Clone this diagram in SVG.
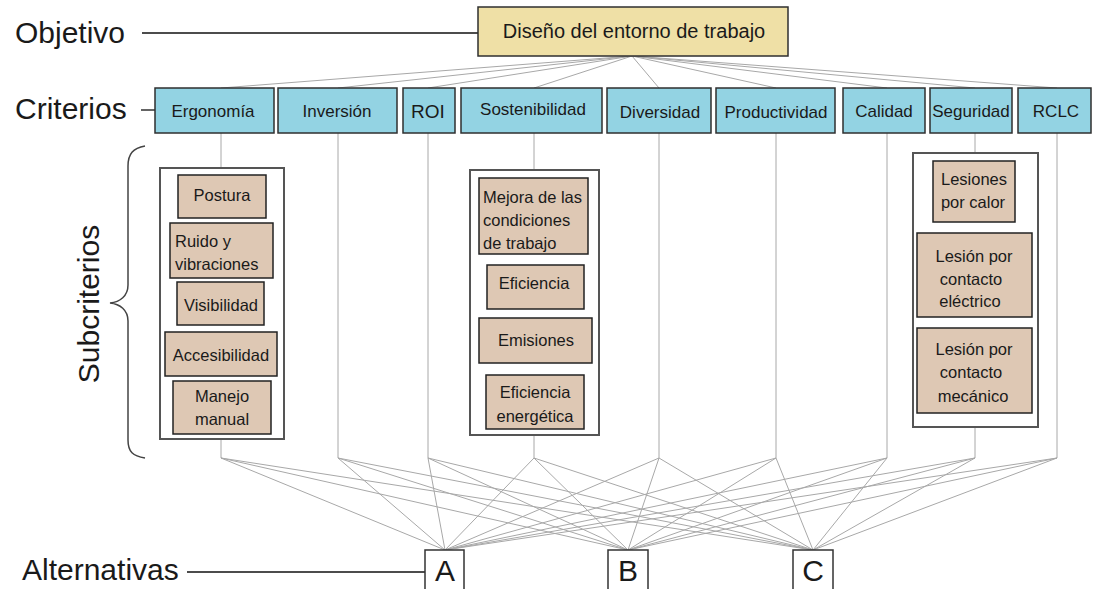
<svg xmlns="http://www.w3.org/2000/svg" width="1094" height="589" viewBox="0 0 1094 589">
<style>
text{font-family:"Liberation Sans",Arial,sans-serif;fill:#1a1a1a}
.lbl{font-size:30px}
.crit rect{fill:#93d3e3;stroke:#2f2f2f;stroke-width:1.5}
.crit text{font-size:17px;text-anchor:middle}
.cont{fill:#fff;stroke:#555;stroke-width:2}
.sub{fill:#dec8b4;stroke:#222;stroke-width:1.5}
.st{font-size:16.5px}
.mid{text-anchor:middle}
.conn line{stroke:#a8a8a8;stroke-width:1}
.guide{stroke:#111;stroke-width:1.3}
.alt rect{fill:#fff;stroke:#333;stroke-width:1.5}
.alt text{font-size:30px;text-anchor:middle}
</style>
<rect width="1094" height="589" fill="#fff"/>

<!-- level labels -->
<g id="labels">
<text class="lbl" x="15" y="43">Objetivo</text>
<line class="guide" x1="142" y1="33" x2="478" y2="33"/>
<text class="lbl" x="15" y="119">Criterios</text>
<line class="guide" x1="141" y1="110" x2="155" y2="110"/>
<text class="lbl" transform="translate(99,304) rotate(-90)" text-anchor="middle">Subcriterios</text>
<path d="M145,146 C133,148 128,154 128,166 L128,285 C128,296 120,302 110,303 C120,304 128,310 128,321 L128,440 C128,452 133,456 145,458" fill="none" stroke="#444" stroke-width="1.5"/>
<text class="lbl" x="22" y="580">Alternativas</text>
<line class="guide" x1="187" y1="572" x2="425" y2="572"/>
</g>

<!-- connectors -->
<g id="connectors" class="conn">
<line x1="632" y1="56" x2="221" y2="88"/>
<line x1="632" y1="56" x2="338" y2="88"/>
<line x1="632" y1="56" x2="428" y2="88"/>
<line x1="632" y1="56" x2="534" y2="88"/>
<line x1="632" y1="56" x2="659" y2="88"/>
<line x1="632" y1="56" x2="776" y2="88"/>
<line x1="632" y1="56" x2="887" y2="88"/>
<line x1="632" y1="56" x2="975" y2="88"/>
<line x1="632" y1="56" x2="1057" y2="88"/>

<line x1="221" y1="133" x2="221" y2="458"/>
<line x1="338" y1="133" x2="338" y2="458"/>
<line x1="428" y1="133" x2="428" y2="458"/>
<line x1="534" y1="133" x2="534" y2="458"/>
<line x1="659" y1="133" x2="659" y2="458"/>
<line x1="776" y1="133" x2="776" y2="458"/>
<line x1="887" y1="133" x2="887" y2="458"/>
<line x1="975" y1="133" x2="975" y2="458"/>
<line x1="1057" y1="133" x2="1057" y2="458"/>

<line x1="221" y1="458" x2="445" y2="550"/><line x1="221" y1="458" x2="628" y2="550"/><line x1="221" y1="458" x2="813" y2="550"/>
<line x1="338" y1="458" x2="445" y2="550"/><line x1="338" y1="458" x2="628" y2="550"/><line x1="338" y1="458" x2="813" y2="550"/>
<line x1="428" y1="458" x2="445" y2="550"/><line x1="428" y1="458" x2="628" y2="550"/><line x1="428" y1="458" x2="813" y2="550"/>
<line x1="534" y1="458" x2="445" y2="550"/><line x1="534" y1="458" x2="628" y2="550"/><line x1="534" y1="458" x2="813" y2="550"/>
<line x1="659" y1="458" x2="445" y2="550"/><line x1="659" y1="458" x2="628" y2="550"/><line x1="659" y1="458" x2="813" y2="550"/>
<line x1="776" y1="458" x2="445" y2="550"/><line x1="776" y1="458" x2="628" y2="550"/><line x1="776" y1="458" x2="813" y2="550"/>
<line x1="887" y1="458" x2="445" y2="550"/><line x1="887" y1="458" x2="628" y2="550"/><line x1="887" y1="458" x2="813" y2="550"/>
<line x1="975" y1="458" x2="445" y2="550"/><line x1="975" y1="458" x2="628" y2="550"/><line x1="975" y1="458" x2="813" y2="550"/>
<line x1="1057" y1="458" x2="445" y2="550"/><line x1="1057" y1="458" x2="628" y2="550"/><line x1="1057" y1="458" x2="813" y2="550"/>
</g>

<!-- goal -->
<g id="goal">
<rect x="478" y="7" width="310" height="49" fill="#efe0a6" stroke="#2f2f2f" stroke-width="1.5"/>
<text x="634" y="38" font-size="20" text-anchor="middle">Diseño del entorno de trabajo</text>
</g>

<!-- criteria -->
<g id="c-ergonomia" class="crit"><rect x="155" y="88" width="119" height="45"/><text x="213" y="117">Ergonomía</text></g>
<g id="c-inversion" class="crit"><rect x="278" y="88" width="119" height="45"/><text x="337" y="117">Inversión</text></g>
<g id="c-roi" class="crit"><rect x="403" y="88" width="52" height="45"/><text x="428" y="118" style="font-size:19px">ROI</text></g>
<g id="c-sostenibilidad" class="crit"><rect x="461" y="88" width="141" height="45"/><text x="533" y="115">Sostenibilidad</text></g>
<g id="c-diversidad" class="crit"><rect x="607" y="88" width="104" height="45"/><text x="660" y="118">Diversidad</text></g>
<g id="c-productividad" class="crit"><rect x="716" y="88" width="119" height="45"/><text x="776" y="118">Productividad</text></g>
<g id="c-calidad" class="crit"><rect x="843" y="88" width="82" height="45"/><text x="884" y="117">Calidad</text></g>
<g id="c-seguridad" class="crit"><rect x="930" y="88" width="82" height="45"/><text x="971" y="117">Seguridad</text></g>
<g id="c-rclc" class="crit"><rect x="1018" y="88" width="73" height="45"/><text x="1056" y="117">RCLC</text></g>

<!-- subcriteria: Ergonomía -->
<g id="s-ergonomia">
<rect class="cont" x="160" y="168" width="124" height="271"/>
<rect class="sub" x="178" y="175" width="88" height="43"/><text class="st mid" x="222" y="201">Postura</text>
<rect class="sub" x="170" y="223" width="103" height="55"/><text class="st" x="175" y="247">Ruido y</text><text class="st" x="175" y="270">vibraciones</text>
<rect class="sub" x="177" y="282" width="87" height="43"/><text class="st mid" x="221" y="311">Visibilidad</text>
<rect class="sub" x="165" y="332" width="112" height="44"/><text class="st mid" x="221" y="361">Accesibilidad</text>
<rect class="sub" x="173" y="381" width="98" height="53"/><text class="st mid" x="222" y="402">Manejo</text><text class="st mid" x="222" y="425">manual</text>
</g>

<!-- subcriteria: Sostenibilidad -->
<g id="s-sostenibilidad">
<rect class="cont" x="470" y="170" width="129" height="265"/>
<rect class="sub" x="479" y="178" width="109" height="76"/><text class="st" x="483" y="203">Mejora de las</text><text class="st" x="483" y="226">condiciones</text><text class="st" x="483" y="249">de trabajo</text>
<rect class="sub" x="487" y="265" width="97" height="44"/><text class="st mid" x="534" y="289">Eficiencia</text>
<rect class="sub" x="479" y="318" width="113" height="45"/><text class="st mid" x="536" y="346">Emisiones</text>
<rect class="sub" x="486" y="375" width="98" height="54"/><text class="st mid" x="535" y="398">Eficiencia</text><text class="st mid" x="535" y="422">energética</text>
</g>

<!-- subcriteria: Seguridad -->
<g id="s-seguridad">
<rect class="cont" x="913" y="153" width="125" height="274"/>
<rect class="sub" x="933" y="161" width="82" height="61"/><text class="st mid" x="974" y="185">Lesiones</text><text class="st mid" x="973" y="208">por calor</text>
<rect class="sub" x="917" y="233" width="115" height="84"/><text class="st mid" x="974" y="262">Lesión por</text><text class="st mid" x="971" y="285">contacto</text><text class="st mid" x="970" y="307">eléctrico</text>
<rect class="sub" x="917" y="328" width="115" height="85"/><text class="st mid" x="974" y="355">Lesión por</text><text class="st mid" x="971" y="378">contacto</text><text class="st mid" x="973" y="402">mecánico</text>
</g>

<!-- alternatives -->
<g id="alt-a" class="alt"><rect x="425" y="550" width="39" height="45"/><text x="445" y="581">A</text></g>
<g id="alt-b" class="alt"><rect x="608" y="550" width="40" height="45"/><text x="628" y="581">B</text></g>
<g id="alt-c" class="alt"><rect x="793" y="550" width="40" height="45"/><text x="813" y="581">C</text></g>
</svg>
